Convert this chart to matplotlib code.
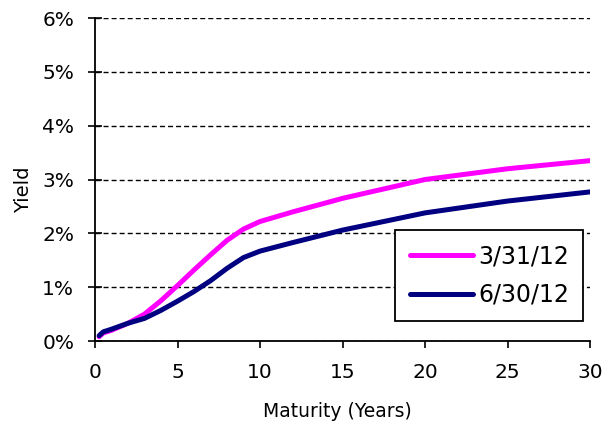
import matplotlib
matplotlib.use('Agg')
import matplotlib.pyplot as plt
from matplotlib.ticker import PercentFormatter

maturity = [0.25, 0.5, 1, 2, 3, 4, 5, 6, 7, 8, 9, 10, 12, 15, 20, 25, 30]
yield_mar = [0.08, 0.15, 0.20, 0.33, 0.50, 0.75, 1.03, 1.32, 1.60, 1.87, 2.08, 2.22, 2.40, 2.65, 3.00, 3.20, 3.35]
yield_jun = [0.10, 0.17, 0.22, 0.33, 0.42, 0.57, 0.74, 0.92, 1.12, 1.35, 1.55, 1.67, 1.83, 2.06, 2.38, 2.60, 2.77]
labels = ['3/31/12', '6/30/12']

plt.rcParams['font.family'] = 'DejaVu Sans'
fig = plt.figure(figsize=(6.13, 4.26), dpi=100)
ax = fig.add_axes([0.155, 0.1995, 0.8075, 0.7582])

ax.plot(maturity, yield_mar, color='#FF00FF', lw=3.6, solid_capstyle='round', label=labels[0], zorder=3)
ax.plot(maturity, yield_jun, color='#000080', lw=3.6, solid_capstyle='round', label=labels[1], zorder=4)

ax.set_xlim(0, 30)
ax.set_ylim(0, 6)
ax.set_xticks(range(0, 31, 5))
ax.set_yticks(range(0, 7))
ax.yaxis.set_major_formatter(PercentFormatter(decimals=0))
ax.yaxis.grid(True, ls=(0, (3.6, 2.2)), color='k', lw=1)
ax.set_axisbelow(True)

for s in ['top', 'right']:
    ax.spines[s].set_visible(False)
for s in ['left', 'bottom']:
    ax.spines[s].set_linewidth(1.3)
ax.tick_params(axis='y', direction='inout', length=10, width=1.2, labelsize=14.5, pad=10)
ax.tick_params(axis='x', direction='out', length=5, width=1.2, labelsize=14.5, pad=11)

ax.set_xlabel('Maturity (Years)', fontsize=13.5)
ax.xaxis.set_label_coords(0.49, -0.188)
ax.set_ylabel('Yield', fontsize=14)
ax.yaxis.set_label_coords(-0.125, 0.467)

leg = ax.legend(loc='lower right', bbox_to_anchor=(0.986, 0.062), borderaxespad=0,
                fontsize=17, frameon=True, fancybox=False, edgecolor='k', framealpha=1,
                handlelength=2.7, borderpad=0.6, labelspacing=0.6, handletextpad=0.2)
leg.get_frame().set_linewidth(1.3)

plt.savefig('out.png', dpi=100)
